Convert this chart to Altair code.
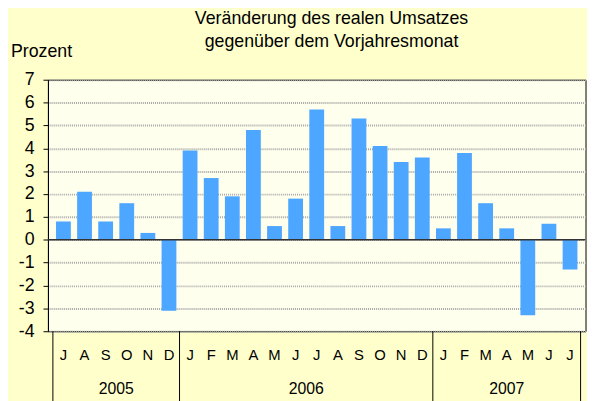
import numpy as np
import pandas as pd
import altair as alt

# monthly change of real turnover vs. same month of the previous year (%)
months = ['J', 'A', 'S', 'O', 'N', 'D',
          'J', 'F', 'M', 'A', 'M', 'J', 'J', 'A', 'S', 'O', 'N', 'D',
          'J', 'F', 'M', 'A', 'M', 'J', 'J']
values = [0.8, 2.1, 0.8, 1.6, 0.3, -3.1,
          3.9, 2.7, 1.9, 4.8, 0.6, 1.8, 5.7, 0.6, 5.3, 4.1, 3.4, 3.6,
          0.5, 3.8, 1.6, 0.5, -3.3, 0.7, -1.3]
years = ['2005', '2006', '2007']
months_per_year = [6, 12, 7]
y_ticks = list(range(-4, 8))

df = pd.DataFrame({'idx': range(len(values)), 'Monat': months, 'Prozent': values})
ends = np.cumsum(months_per_year)
starts = ends - np.array(months_per_year)
yr = pd.DataFrame({'Jahr': years, 'start': starts, 'end': ends})
bounds = pd.DataFrame({'pos': [0] + [int(e) for e in ends]})

W, H = 545, 255
x_scale = alt.Scale(domain=[0, len(values)], nice=False, zero=False)
y_scale = alt.Scale(domain=[min(y_ticks), max(y_ticks)], nice=False)
y_axis = alt.Axis(values=y_ticks, tickCount=len(y_ticks), labelExpr="'' + datum.value",
                  labelOverlap=False, labelFlush=False,
                  tickSize=5, tickColor='black', domainColor='black',
                  labelFontSize=18, labelColor='black', labelPadding=9,
                  gridColor='#a8a8a8', gridDash=[1, 1], gridWidth=2,
                  title='Prozent', titleAngle=0, titleAlign='left',
                  titleBaseline='middle', titleX=-38, titleY=-29,
                  titleFontSize=18, titleFontWeight='normal',
                  titleColor='black')

base = alt.Chart(df).transform_calculate(mid='datum.idx + 0.5')

bars = base.mark_bar(width=15, color='#4DA6FF').encode(
    x=alt.X('mid:Q', scale=x_scale, axis=None),
    y=alt.Y('Prozent:Q', scale=y_scale, axis=y_axis),
)

zero = alt.Chart(pd.DataFrame({'y': [0]})).mark_rule(
    color='#333333', strokeWidth=1.5
).encode(y=alt.Y('y:Q', scale=y_scale, axis=y_axis))

month_labels = base.mark_text(fontSize=15, baseline='middle', color='black').encode(
    x=alt.X('mid:Q', scale=x_scale, axis=None),
    y=alt.value(H + 24),
    text='Monat:N',
)

year_labels = alt.Chart(yr).transform_calculate(
    center='(datum.start + datum.end) / 2'
).mark_text(fontSize=16, baseline='middle', color='black').encode(
    x=alt.X('center:Q', scale=x_scale, axis=None),
    y=alt.value(H + 59),
    text='Jahr:N',
)

separators = alt.Chart(bounds).mark_rule(color='black', strokeWidth=1).encode(
    x=alt.X('pos:Q', scale=x_scale, axis=None),
    y=alt.value(H),
    y2=alt.value(H + 75),
)

chart = alt.layer(bars, zero, separators, month_labels, year_labels).properties(
    width=W,
    height=H,
    title=alt.Title(['Veränderung des realen Umsatzes', 'gegenüber dem Vorjahresmonat'],
                    fontSize=18, fontWeight='normal', lineHeight=24,
                    anchor='middle', dx=15, offset=-9, color='black'),
    autosize=alt.AutoSizeParams(type='none'),
    padding={'left': 40.5, 'top': 70, 'right': 1.5, 'bottom': 68},
    background='#FFFFCC',
).configure(
    font='Liberation Sans'
).configure_view(
    fill='#FFFFEE', stroke='black', strokeWidth=1
)

chart.save('out.html', embed_options={'renderer': 'svg', 'actions': False})
